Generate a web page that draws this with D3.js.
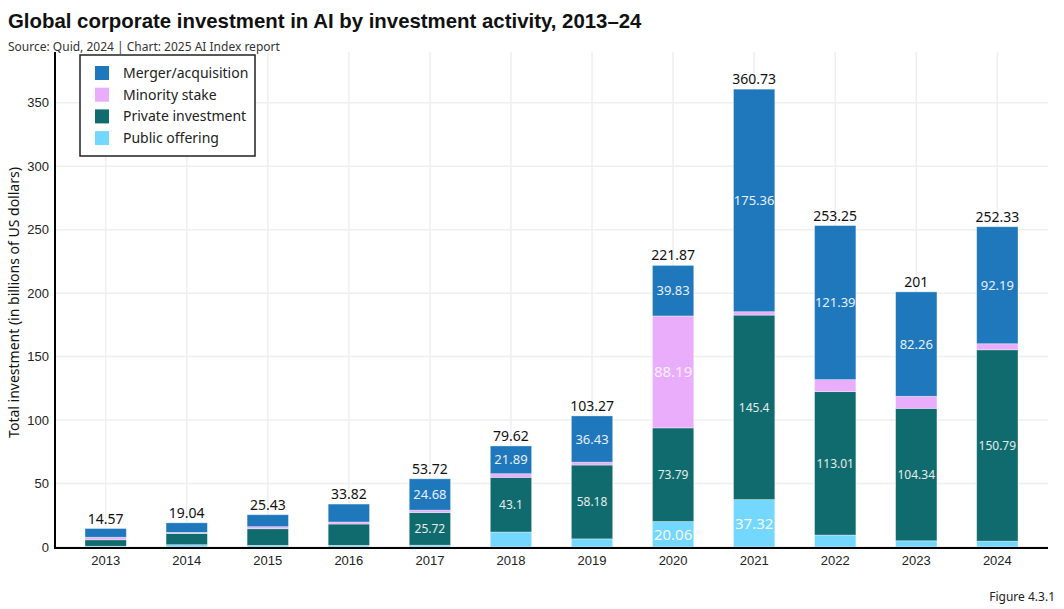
<!DOCTYPE html>
<html>
<head>
<meta charset="utf-8">
<script src="https://cdn.jsdelivr.net/npm/d3@7"></script>
<style>
    body { margin: 0; background: #fff; }
    svg { display: block; font-family: "Noto Sans", "Open Sans", sans-serif; }
</style>
</head>
<body>
<div id="chart"></div>
<script>
// Values (billions of US dollars)
const years = ["2013", "2014", "2015", "2016", "2017", "2018", "2019", "2020", "2021", "2022", "2023", "2024"];
const publicOffering    = [0.6, 1.8, 1.3, 1.3, 1.42, 11.8, 6.4, 20.06, 37.32, 9.4, 4.9, 4.6];
const privateInvestment = [5.1, 8.9, 13.1, 16.8, 25.72, 43.1, 58.18, 73.79, 145.4, 113.01, 104.34, 150.79];
const minorityStake     = [2.0, 0.8, 1.6, 1.6, 1.9, 2.83, 2.26, 88.19, 2.65, 9.45, 9.5, 4.75];
const mergerAcquisition = [6.87, 7.54, 9.43, 14.12, 24.68, 21.89, 36.43, 39.83, 175.36, 121.39, 82.26, 92.19];
const totals = [14.57, 19.04, 25.43, 33.82, 53.72, 79.62, 103.27, 221.87, 360.73, 253.25, 201, 252.33];
const yTicks = [0, 50, 100, 150, 200, 250, 300, 350];

// Series, bottom of the stack first
const series = [
    { key: "public",   name: "Public offering",    values: publicOffering,    color: "#74d7fd", label: "#f4fbff", size: 15 },
    { key: "private",  name: "Private investment", values: privateInvestment, color: "#0f6b6d", label: "#e6ecec", size: 12 },
    { key: "minority", name: "Minority stake",     values: minorityStake,     color: "#e9adfc", label: "#fbf0ff", size: 15 },
    { key: "merger",   name: "Merger/acquisition", values: mergerAcquisition, color: "#1f77bc", label: "#e8f0f8", size: 13 }
];

const rows = years.map((y, i) => {
    const r = { year: y };
    series.forEach(s => { r[s.key] = s.values[i]; });
    return r;
});

const width = 1064, height = 609;
const margin = { left: 55, right: 16, top: 52, bottom: 62 };

const svg = d3.select("#chart")
    .append("svg")
    .attr("width", width)
    .attr("height", height);

const x = d3.scaleBand()
    .domain(years)
    .range([margin.left, width - margin.right])
    .paddingInner(0.49)
    .paddingOuter(0.37);

const y = d3.scaleLinear()
    .domain([0, 390])
    .range([height - margin.bottom, margin.top]);

// Grid
const grid = svg.append("g").attr("class", "grid");
grid.selectAll("line.h")
    .data(yTicks)
    .enter().append("line")
    .attr("x1", margin.left)
    .attr("x2", width - margin.right)
    .attr("y1", d => y(d))
    .attr("y2", d => y(d))
    .attr("stroke", "#efefef")
    .attr("stroke-width", 1.5);
grid.selectAll("line.v")
    .data(years)
    .enter().append("line")
    .attr("x1", d => x(d) + x.bandwidth() / 2)
    .attr("x2", d => x(d) + x.bandwidth() / 2)
    .attr("y1", margin.top)
    .attr("y2", y(0))
    .attr("stroke", "#efefef")
    .attr("stroke-width", 1.5);

// Stacked bars
const stack = d3.stack().keys(series.map(s => s.key));
const layers = stack(rows);

const layer = svg.append("g")
    .selectAll("g")
    .data(layers)
    .enter().append("g")
    .attr("fill", (d, i) => series[i].color);

layer.selectAll("rect")
    .data(d => d)
    .enter().append("rect")
    .attr("x", d => x(d.data.year))
    .attr("width", x.bandwidth())
    .attr("y", d => y(d[1]))
    .attr("height", d => y(d[0]) - y(d[1]))
    .attr("stroke", "rgba(255,255,255,0.45)")
    .attr("stroke-width", 0.8);

// Labels inside segments large enough to hold them
layers.forEach((l, i) => {
    const s = series[i];
    svg.append("g")
        .selectAll("text")
        .data(l.filter(d => d[1] - d[0] >= 18))
        .enter().append("text")
        .attr("x", d => x(d.data.year) + x.bandwidth() / 2)
        .attr("y", d => (y(d[0]) + y(d[1])) / 2)
        .attr("dy", "0.35em")
        .attr("text-anchor", "middle")
        .attr("fill", s.label)
        .attr("font-size", s.size + "px")
        .text(d => d.data[s.key]);
});

// Totals above the bars
svg.append("g")
    .selectAll("text")
    .data(years)
    .enter().append("text")
    .attr("x", d => x(d) + x.bandwidth() / 2)
    .attr("y", (d, i) => y(totals[i]) - 5)
    .attr("text-anchor", "middle")
    .attr("fill", "#111")
    .attr("font-size", "14px")
    .text((d, i) => totals[i]);

// Axes
const yAxis = svg.append("g")
    .attr("transform", `translate(${margin.left},0)`)
    .call(d3.axisLeft(y).tickValues(yTicks).tickSize(0).tickPadding(6));
yAxis.select(".domain").remove();
yAxis.selectAll("text").attr("font-size", "13px").attr("fill", "#222").attr("font-family", null);

const xAxis = svg.append("g")
    .attr("transform", `translate(0,${y(0)})`)
    .call(d3.axisBottom(x).tickSize(0).tickPadding(9));
xAxis.select(".domain").remove();
xAxis.selectAll("text").attr("font-size", "13px").attr("fill", "#222").attr("font-family", null);

svg.append("line")
    .attr("x1", margin.left).attr("x2", margin.left)
    .attr("y1", margin.top).attr("y2", y(0) + 1)
    .attr("stroke", "#000").attr("stroke-width", 2);
svg.append("line")
    .attr("x1", margin.left - 1).attr("x2", width - margin.right)
    .attr("y1", y(0) + 1).attr("y2", y(0) + 1)
    .attr("stroke", "#000").attr("stroke-width", 2);

// Y axis title
svg.append("text")
    .attr("transform", `translate(19,${(margin.top + y(0)) / 2 + 3}) rotate(-90)`)
    .attr("text-anchor", "middle")
    .attr("font-size", "14px")
    .attr("fill", "#111")
    .text("Total investment (in billions of US dollars)");

// Legend, top entry is the top of the stack
const legendItems = series.slice().reverse();
const legend = svg.append("g").attr("transform", "translate(80,55)");
legend.append("rect")
    .attr("width", 175)
    .attr("height", 101)
    .attr("fill", "#fff")
    .attr("stroke", "#222")
    .attr("stroke-width", 1.5);
const item = legend.selectAll("g.item")
    .data(legendItems)
    .enter().append("g")
    .attr("transform", (d, i) => `translate(15,${11 + i * 21.7})`);
item.append("rect")
    .attr("width", 14)
    .attr("height", 14)
    .attr("fill", d => d.color);
item.append("text")
    .attr("x", 28)
    .attr("y", 7)
    .attr("dy", "0.35em")
    .attr("font-size", "14px")
    .attr("fill", "#222")
    .text(d => d.name);

// Titles
svg.append("text")
    .attr("x", 8).attr("y", 28)
    .attr("font-family", "'Liberation Sans', Arial, sans-serif")
    .attr("font-weight", "bold")
    .attr("font-size", "20.4px")
    .attr("fill", "#111")
    .text("Global corporate investment in AI by investment activity, 2013–24");
svg.append("text")
    .attr("x", 8).attr("y", 51)
    .attr("font-size", "12px")
    .attr("fill", "#333")
    .text("Source: Quid, 2024 | Chart: 2025 AI Index report");
svg.append("text")
    .attr("x", 1055).attr("y", 601)
    .attr("text-anchor", "end")
    .attr("font-size", "12px")
    .attr("fill", "#222")
    .text("Figure 4.3.1");
</script>
</body>
</html>
